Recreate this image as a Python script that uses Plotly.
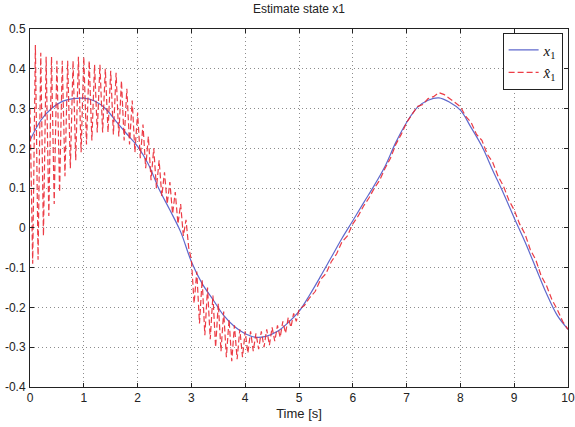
import plotly.graph_objects as go

# True state x1
t_true = [0.0, 0.2, 0.4, 0.6, 0.8, 1.0, 1.2, 1.4, 1.6, 1.8, 2.0, 2.2, 2.4, 2.6, 2.8,
          3.0, 3.2, 3.4, 3.6, 3.8, 4.0, 4.2, 4.4, 4.6, 4.8, 5.0, 5.2, 5.4, 5.6, 5.8,
          6.0, 6.2, 6.4, 6.6, 6.8, 7.0, 7.2, 7.4, 7.6, 7.8, 8.0, 8.2, 8.4, 8.6, 8.8,
          9.0, 9.2, 9.4, 9.6, 9.8, 10.0]
x1_true = [0.22, 0.27, 0.30, 0.318, 0.325, 0.326, 0.319, 0.30, 0.268, 0.236, 0.205,
           0.16, 0.097, 0.045, -0.01, -0.085, -0.14, -0.18, -0.22, -0.248, -0.266,
           -0.275, -0.272, -0.26, -0.238, -0.21, -0.168, -0.122, -0.074, -0.026,
           0.018, 0.063, 0.107, 0.155, 0.215, 0.265, 0.303, 0.321, 0.327, 0.316,
           0.296, 0.252, 0.205, 0.145, 0.087, 0.025, -0.035, -0.10, -0.165, -0.22, -0.255]

# Estimated state x1_hat (peaks and troughs)
t_hat = [0.00, 0.05, 0.10, 0.15, 0.20, 0.25, 0.30, 0.35, 0.40, 0.45, 0.50, 0.55, 0.60,
         0.65, 0.70, 0.75, 0.80, 0.85, 0.90, 0.95, 1.00, 1.05, 1.10, 1.15, 1.20, 1.25,
         1.30, 1.35, 1.40, 1.45, 1.50, 1.55, 1.60, 1.65, 1.70, 1.75, 1.80, 1.85, 1.90,
         1.95, 2.00, 2.05, 2.10, 2.15, 2.20, 2.25, 2.30, 2.35, 2.40, 2.45, 2.50, 2.55,
         2.60, 2.65, 2.70, 2.75, 2.80, 2.85, 2.90, 2.95, 3.00,
         3.05, 3.10, 3.15, 3.20, 3.25, 3.30, 3.35, 3.40, 3.45, 3.50, 3.55, 3.60, 3.65,
         3.70, 3.75, 3.80, 3.85, 3.90, 3.95, 4.00, 4.05, 4.10, 4.15, 4.20, 4.25, 4.30,
         4.35, 4.40, 4.45, 4.50, 4.55, 4.60, 4.65, 4.70, 4.75, 4.80, 4.85, 4.90, 4.95,
         5.00, 5.1, 5.2, 5.3, 5.4, 5.5, 5.6, 5.7, 5.8, 5.9, 6.0, 6.1, 6.2, 6.3, 6.4,
         6.5, 6.6, 6.7, 6.8, 6.9, 7.0, 7.1, 7.2, 7.3, 7.4, 7.5, 7.6, 7.7, 7.8, 7.9,
         8.0, 8.1, 8.2, 8.3, 8.4, 8.5, 8.6, 8.7, 8.8, 8.9, 9.0, 9.1, 9.2, 9.3, 9.4,
         9.5, 9.6, 9.7, 9.8, 9.9, 10.0]
x1_hat = [0.30, -0.09, 0.46, -0.08, 0.44, -0.02, 0.43, 0.03, 0.43, 0.06, 0.42, 0.09, 0.42,
          0.13, 0.42, 0.15, 0.42, 0.17, 0.43, 0.19, 0.43, 0.21, 0.42, 0.22, 0.41, 0.24,
          0.41, 0.24, 0.40, 0.24, 0.395, 0.235, 0.39, 0.23, 0.37, 0.22, 0.35, 0.21, 0.32,
          0.19, 0.29, 0.175, 0.26, 0.15, 0.23, 0.12, 0.20, 0.10, 0.17, 0.08, 0.14, 0.06,
          0.115, 0.035, 0.09, 0.01, 0.06, -0.02, 0.02, -0.05, -0.08,
          -0.19, -0.11, -0.24, -0.13, -0.27, -0.15, -0.28, -0.17, -0.30, -0.19, -0.31,
          -0.21, -0.325, -0.23, -0.335, -0.245, -0.33, -0.255, -0.325, -0.26, -0.315,
          -0.26, -0.31, -0.265, -0.305, -0.26, -0.30, -0.255, -0.295, -0.25, -0.285,
          -0.245, -0.275, -0.235, -0.265, -0.225, -0.25, -0.215, -0.235,
          -0.205, -0.195, -0.175, -0.16, -0.13, -0.115, -0.085, -0.065, -0.035, -0.02,
          0.01, 0.03, 0.055, 0.075, 0.10, 0.12, 0.15, 0.175, 0.21, 0.235, 0.265, 0.285,
          0.305, 0.31, 0.325, 0.33, 0.34, 0.335, 0.325, 0.315, 0.305, 0.28, 0.265, 0.235,
          0.22, 0.185, 0.165, 0.13, 0.105, 0.07, 0.045, 0.01, -0.015, -0.055, -0.08,
          -0.12, -0.145, -0.18, -0.205, -0.235, -0.255]

x_ticks = [0, 1, 2, 3, 4, 5, 6, 7, 8, 9, 10]
y_ticks = [0.5, 0.4, 0.3, 0.2, 0.1, 0, -0.1, -0.2, -0.3, -0.4]
y_tick_text = ["0.5", "0.4", "0.3", "0.2", "0.1", "0", "-0.1", "-0.2", "-0.3", "-0.4"]

fig = go.Figure()
fig.add_trace(go.Scatter(
    x=t_true, y=x1_true, mode="lines", line_shape="spline",
    line=dict(color="rgb(95,105,205)", width=1.2),
    name="<i>x</i><sub>1</sub>"))
fig.add_trace(go.Scatter(
    x=t_hat, y=x1_hat, mode="lines",
    line=dict(color="rgb(235,40,50)", width=1.2, dash="6px,3px"),
    opacity=0.9,
    name="<i>x&#770;</i><sub>1</sub>"))

axis_common = dict(
    showline=True, linecolor="#222", linewidth=1, mirror="ticks",
    ticks="inside", ticklen=4, tickcolor="#222",
    showgrid=True, gridcolor="rgb(140,140,140)", griddash="1px,3px", gridwidth=1,
    zeroline=False, automargin=False,
    tickfont=dict(family="Liberation Sans, Arial", size=12, color="#222"),
)

fig.update_layout(
    width=575, height=427,
    margin=dict(l=30, r=7, t=29, b=40),
    paper_bgcolor="white", plot_bgcolor="white",
    title=dict(text="Estimate state x1", x=0.52, xanchor="center", y=0.99, yanchor="top",
               font=dict(family="Liberation Sans, Arial", size=12, color="#222")),
    xaxis=dict(range=[0, 10], tickvals=x_ticks,
               title=dict(text="Time [s]", standoff=4,
                          font=dict(family="Liberation Sans, Arial", size=13, color="#222")),
               **axis_common),
    yaxis=dict(range=[-0.4, 0.5], tickvals=y_ticks, ticktext=y_tick_text, ticklabelstandoff=1,
               **axis_common),
    legend=dict(x=0.99, y=0.99, xanchor="right", yanchor="top",
                bgcolor="white", bordercolor="#222", borderwidth=1,
                font=dict(family="Liberation Serif, Times New Roman", size=15, color="#111"),
                tracegroupgap=0, itemwidth=30),
    showlegend=True,
)

fig.write_html("out.html", config={"displayModeBar": False},
               post_script="document.body.style.margin='0px';document.body.style.overflow='hidden';")
